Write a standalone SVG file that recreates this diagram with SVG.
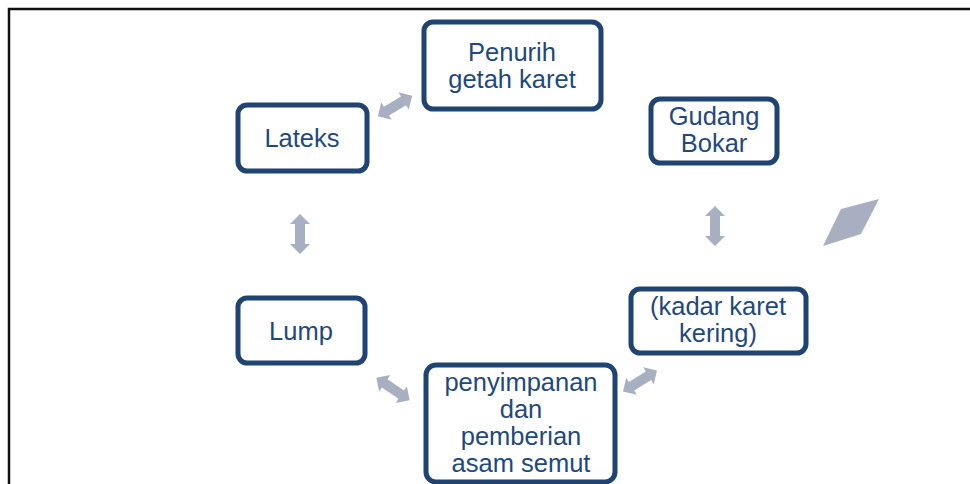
<svg xmlns="http://www.w3.org/2000/svg" width="970" height="484" viewBox="0 0 970 484">
<style>
.box{fill:#fff;stroke:#1f4373;stroke-width:5}
.t{font-family:"Liberation Sans",Arial,sans-serif;font-size:25.5px;fill:#1f497d;text-anchor:middle}
.arr{fill:#a7afc0}
</style>
<defs>
<path id="dbl" d="M-20,0 L-10,-10 L-10,-5 L10,-5 L10,-10 L20,0 L10,10 L10,5 L-10,5 L-10,10 Z"/>
</defs>
<rect x="0" y="0" width="970" height="484" fill="#fff"/>
<path d="M9,484 V9 H970" fill="none" stroke="#111" stroke-width="2.5"/>
<g id="connectors" class="arr">
<use href="#dbl" transform="translate(395,106) rotate(-31)"/>
<use href="#dbl" transform="translate(300,234) rotate(90)"/>
<use href="#dbl" transform="translate(715,226) rotate(90)"/>
<use href="#dbl" transform="translate(393,389) rotate(34)"/>
<use href="#dbl" transform="translate(640,381) rotate(-32)"/>
<polygon points="879,199 841,209 823,246 861,234"/>
</g>
<g id="penurih">
<rect class="box" x="424" y="22" width="177" height="87" rx="9"/>
<text class="t" x="512" y="61">Penurih</text>
<text class="t" x="512" y="88">getah karet</text>
</g>
<g id="lateks">
<rect class="box" x="238" y="105" width="129" height="66" rx="9"/>
<text class="t" x="302" y="147">Lateks</text>
</g>
<g id="gudang">
<rect class="box" x="651" y="99" width="126" height="64" rx="9"/>
<text class="t" x="714" y="125">Gudang</text>
<text class="t" x="714" y="152">Bokar</text>
</g>
<g id="lump">
<rect class="box" x="238" y="298" width="127" height="65" rx="9"/>
<text class="t" x="301" y="340">Lump</text>
</g>
<g id="kadar">
<rect class="box" x="631" y="289" width="175" height="64" rx="9"/>
<text class="t" x="718" y="315">(kadar karet</text>
<text class="t" x="718" y="342">kering)</text>
</g>
<g id="penyimpanan">
<rect class="box" x="426" y="365" width="189" height="117" rx="10"/>
<text class="t" x="521" y="391">penyimpanan</text>
<text class="t" x="521" y="418">dan</text>
<text class="t" x="521" y="445">pemberian</text>
<text class="t" x="521" y="472">asam semut</text>
</g>
</svg>
